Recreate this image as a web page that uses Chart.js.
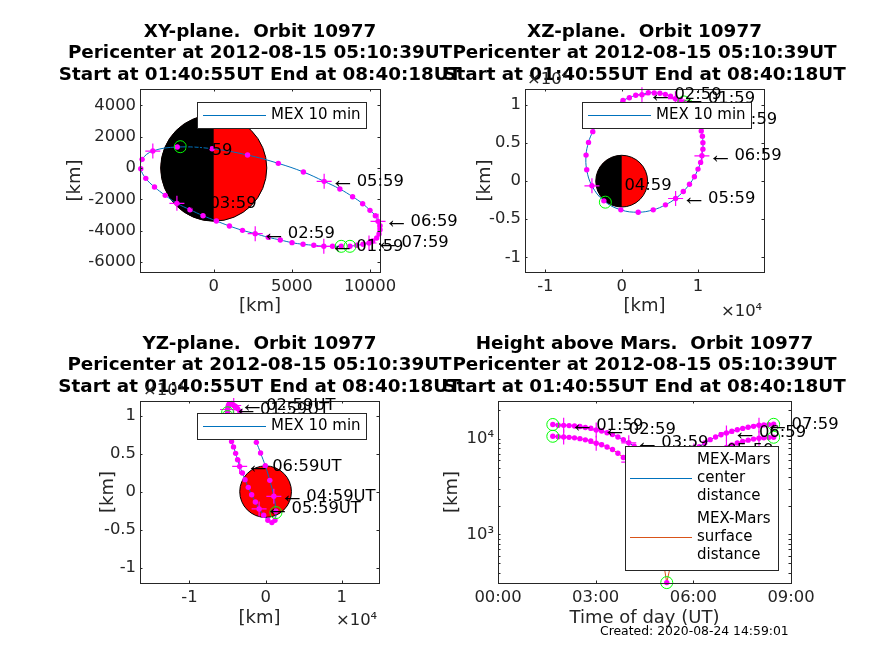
<!DOCTYPE html>
<html>
<head>
<meta charset="utf-8">
<title>Orbit 10977</title>
<script src="https://cdn.jsdelivr.net/npm/chart.js@4"></script>
<style>
  html, body { margin: 0; padding: 0; background: #fff; }
  canvas { position: absolute; left: 0; top: 0; }
</style>
</head>
<body>
<script>
"use strict";
// one sample every 10 min
const timeMin = [101, 111, 121, 131, 141, 151, 161, 171, 181, 191, 201, 211, 221, 231, 241, 251, 261, 271, 281, 291, 301, 311, 321, 331, 341, 351, 361, 371, 381, 391, 401, 411, 421, 431, 441, 451, 461, 471, 481, 490, 499, 508];
const xKm = [8158, 7602, 7045, 6403, 5717, 5011, 4261, 3490, 2655, 1842, 1006, 171, -685, -1520, -2355, -3105, -3790, -4347, -4668, -4582, -3897, -2334, -107, 2163, 4133, 5739, 7066, 8073, 8887, 9529, 10000, 10343, 10514, 10642, 10642, 10578, 10428, 10171, 9936, 9550, 9143, 8715];
const yKm = [-5000, -5000, -5000, -4936, -4872, -4766, -4596, -4426, -4191, -3979, -3702, -3383, -3043, -2660, -2255, -1745, -1213, -660, -43, 553, 1085, 1340, 1234, 830, 298, -255, -851, -1340, -1830, -2277, -2702, -3043, -3404, -3681, -3936, -4213, -4468, -4660, -4787, -4872, -4936, -5000];
const zKm = [10400, 10500, 10830, 11140, 11400, 11540, 11580, 11620, 11360, 11270, 10960, 10600, 10000, 9300, 8500, 7600, 6500, 5090, 3420, 1490, -610, -2590, -3770, -4080, -3770, -3110, -2280, -1360, -400, 570, 1580, 2460, 3330, 4200, 5050, 5900, 6600, 7300, 8000, 8750, 9400, 9900];
const centerKm = [14135, 13905, 13853, 13766, 13653, 13454, 13168, 12915, 12394, 12091, 11610, 11127, 10478, 9793, 9105, 8390, 7629, 6723, 5788, 4848, 4099, 3728, 3962, 4690, 5604, 6535, 7470, 8295, 9083, 9813, 10479, 11063, 11541, 12017, 12442, 12869, 13225, 13528, 13900, 14000, 14100, 14200];
const surfaceKm = [10650, 10509, 10457, 10370, 10257, 10058, 9772, 9519, 8998, 8695, 8214, 7731, 7082, 6397, 5709, 4994, 4233, 3327, 2392, 1452, 703, 314, 566, 1294, 2208, 3139, 4074, 4899, 5687, 6417, 7083, 7667, 8145, 8621, 9046, 9400, 9700, 9950, 10150, 10250, 10330, 10400];

const hourIdx = [2, 8, 14, 20, 26, 32, 38];
const hourLabels = ["01:59", "02:59", "03:59", "04:59", "05:59", "06:59", "07:59"];
const endIdx = [0, 41];
const periTime = [311];
const periX = [-2141];
const periY = [1362];
const periZ = [-2760];
const periSurface = [314];
const marsRadiusKm = [3396];

const xyXTicks = [0, 5000, 10000];
const xyYTicks = [-6000, -4000, -2000, 0, 2000, 4000];
const wideTicks = [-10000, 0, 10000];
const zTicks = [-10000, -5000, 0, 5000, 10000];
const timeTicks = [0, 180, 360, 540];
const timeTickLabels = ["00:00", "03:00", "06:00", "09:00"];
const heightTicks = [400, 500, 600, 700, 800, 900, 1000, 2000, 3000, 4000, 5000, 6000, 7000, 8000, 9000, 10000, 20000];
const heightMajor = { 1000: "10³", 10000: "10⁴" };

const titleTail = ["Pericenter at 2012-08-15 05:10:39UT", "Start at 01:40:55UT End at 08:40:18UT"];

const FONT = "'DejaVu Sans'";
const INK = "#262626";
const BLUE = "#0072BD";
const ORANGE = "#D95319";
const MAGENTA = "#FF00FF";
const GREEN = "#00FF00";
const TICK_SIZE = 16.4;
const AXIS_SIZE = 18;
const TITLE_BLOCK = 68.1;

function pick(arr, idx) {
  return idx.map((i) => arr[i]);
}
function pts(xs, ys) {
  return xs.map((x, i) => ({ x: x, y: ys[i] }));
}

function lineSet(xs, ys, color, tension) {
  return { data: pts(xs, ys), showLine: true, borderColor: color, borderWidth: 1, pointRadius: 0, tension: tension, order: 4 };
}
function dotSet(xs, ys) {
  return { data: pts(xs, ys), pointStyle: "circle", pointRadius: 2.7, borderWidth: 0, backgroundColor: MAGENTA, clip: false, order: 3 };
}
function crossSet(xs, ys) {
  return { data: pts(xs, ys), pointStyle: "cross", pointRadius: 7.5, borderWidth: 1.2, borderColor: MAGENTA, clip: false, order: 2 };
}
function ringSet(xs, ys) {
  return { data: pts(xs, ys), pointStyle: "circle", pointRadius: 6, borderWidth: 1, borderColor: GREEN, backgroundColor: "transparent", clip: false, order: 1 };
}

function orbitSets(xs, ys, px, py) {
  return [
    lineSet(xs, ys, BLUE, 0.4),
    dotSet(xs, ys),
    crossSet(pick(xs, hourIdx), pick(ys, hourIdx)),
    ringSet(pick(xs, endIdx).concat(px), pick(ys, endIdx).concat(py)),
  ];
}

function drawDisc(ctx, chart, halves) {
  const sx = chart.scales.x, sy = chart.scales.y;
  const cx = sx.getPixelForValue(0), cy = sy.getPixelForValue(0);
  const rx = sx.getPixelForValue(marsRadiusKm[0]) - cx;
  const ry = cy - sy.getPixelForValue(marsRadiusKm[0]);
  ctx.save();
  ctx.fillStyle = "#FF0000";
  ctx.beginPath();
  ctx.ellipse(cx, cy, rx, ry, 0, 0, Math.PI * 2);
  ctx.fill();
  if (halves) {
    ctx.fillStyle = "#000";
    ctx.beginPath();
    ctx.ellipse(cx, cy, rx, ry, 0, Math.PI / 2, Math.PI * 1.5);
    ctx.fill();
  }
  ctx.strokeStyle = "#000";
  ctx.lineWidth = 1;
  ctx.beginPath();
  ctx.ellipse(cx, cy, rx, ry, 0, 0, Math.PI * 2);
  ctx.stroke();
  ctx.restore();
}

function drawFrame(ctx, chart) {
  const a = chart.chartArea;
  const len = 2.5;
  ctx.save();
  ctx.strokeStyle = INK;
  ctx.lineWidth = 1;
  ctx.strokeRect(Math.round(a.left) + 0.5, Math.round(a.top) + 0.5, Math.round(a.right - a.left), Math.round(a.bottom - a.top));
  ctx.beginPath();
  chart.scales.x.ticks.forEach((t) => {
    const p = Math.round(chart.scales.x.getPixelForValue(t.value)) + 0.5;
    ctx.moveTo(p, a.top); ctx.lineTo(p, a.top + len);
    ctx.moveTo(p, a.bottom); ctx.lineTo(p, a.bottom - len);
  });
  chart.scales.y.ticks.forEach((t) => {
    const p = Math.round(chart.scales.y.getPixelForValue(t.value)) + 0.5;
    ctx.moveTo(a.left, p); ctx.lineTo(a.left + len, p);
    ctx.moveTo(a.right, p); ctx.lineTo(a.right - len, p);
  });
  ctx.stroke();
  ctx.restore();
}

function drawHourLabels(ctx, chart, xs, ys, suffix) {
  ctx.save();
  ctx.fillStyle = "#000";
  ctx.textAlign = "left";
  ctx.textBaseline = "middle";
  hourIdx.forEach((idx, i) => {
    const px = chart.scales.x.getPixelForValue(xs[idx]);
    const py = chart.scales.y.getPixelForValue(ys[idx]);
    ctx.font = "25px 'Liberation Sans'";
    ctx.fillText("←", px + 6, py);
    ctx.font = TICK_SIZE + "px " + FONT;
    ctx.fillText(hourLabels[i] + suffix, px + 32.5, py);
  });
  ctx.restore();
}

function drawLegend(ctx, lg) {
  ctx.save();
  ctx.fillStyle = "#fff";
  ctx.fillRect(lg.left, lg.top, lg.w, lg.h);
  ctx.strokeStyle = INK;
  ctx.lineWidth = 1;
  ctx.strokeRect(lg.left + 0.5, lg.top + 0.5, lg.w, lg.h);
  ctx.font = "15px " + FONT;
  ctx.textBaseline = "middle";
  ctx.textAlign = "left";
  lg.items.forEach((it) => {
    ctx.strokeStyle = it.color;
    ctx.beginPath();
    ctx.moveTo(lg.left + lg.lineFrom, it.y + 0.5);
    ctx.lineTo(lg.left + lg.lineTo, it.y + 0.5);
    ctx.stroke();
    ctx.fillStyle = "#000";
    it.lines.forEach((s, k) => {
      ctx.fillText(s, lg.left + lg.textAt, it.y + (k - (it.lines.length - 1) / 2) * 18);
    });
  });
  ctx.restore();
}

function drawExtra(ctx, extra) {
  ctx.save();
  ctx.textBaseline = "middle";
  ctx.textAlign = "left";
  extra.forEach((e) => {
    ctx.font = e.size + "px " + FONT;
    ctx.fillStyle = e.color || INK;
    ctx.fillText(e.text, e.x, e.y);
  });
  ctx.restore();
}

function makeAxis(o) {
  return Object.assign({
    type: "linear",
    grid: { display: false, drawTicks: false },
    border: { display: false },
    title: { display: true, text: o.label, color: INK, font: { family: FONT, size: AXIS_SIZE }, padding: 0 },
    afterBuildTicks: (s) => { s.ticks = o.ticks.map((v) => ({ value: v })); },
    afterFit: (s) => {
      if (o.width) s.width = o.width;
      if (o.height) s.height = o.height;
      s.paddingLeft = s.paddingRight = s.paddingTop = s.paddingBottom = 0;
    },
    ticks: {
      color: INK,
      font: { family: FONT, size: TICK_SIZE },
      padding: o.pad,
      autoSkip: false,
      maxRotation: 0,
      callback: o.fmt,
    },
  }, o.range);
}

function makePanel(p) {
  const canvas = document.createElement("canvas");
  canvas.width = 874;
  canvas.height = 655;
  document.body.appendChild(canvas);
  const panelPlugin = {
    id: "panelPlugin",
    afterLayout(chart) {
      const mid = (chart.chartArea.left + chart.chartArea.right) / 2;
      chart.titleBlock.left = mid - 300;
      chart.titleBlock.right = mid + 300;
    },
    beforeDatasetsDraw(chart) {
      if (p.disc) drawDisc(chart.ctx, chart, p.disc === "half");
    },
    afterDatasetsDraw(chart) {
      const ctx = chart.ctx;
      drawFrame(ctx, chart);
      p.labels.forEach((l) => drawHourLabels(ctx, chart, l.xs, l.ys, l.suffix));
      drawLegend(ctx, p.legend);
      if (p.extra) drawExtra(ctx, p.extra);
    },
  };
  return new Chart(canvas.getContext("2d"), {
    type: "scatter",
    data: { datasets: p.datasets },
    plugins: [panelPlugin],
    options: {
      responsive: false,
      animation: false,
      layout: { padding: { left: p.box[0] - p.yWidth, right: 874 - p.box[1], top: p.box[2] - TITLE_BLOCK, bottom: 655 - p.box[3] - p.xHeight } },
      plugins: {
        legend: { display: false },
        tooltip: { enabled: false },
        title: {
          display: true,
          text: [p.title].concat(titleTail),
          color: "#000",
          font: { family: FONT, size: 18.35, weight: "bold", lineHeight: "21.7px" },
          padding: { top: 0, bottom: 3 },
        },
      },
      scales: { x: p.x, y: p.y },
    },
  });
}

const kmFmt = (v) => String(v);
const e4Fmt = (v) => String(v / 10000);

const legend10 = (left, top) => ({
  left: left, top: top, w: 169, h: 26, lineFrom: 6, lineTo: 69, textAt: 74,
  items: [{ color: BLUE, y: top + 13, lines: ["MEX 10 min"] }],
});

makePanel({
  title: "XY-plane.  Orbit 10977",
  box: [140, 380, 89, 272], yWidth: 75, xHeight: 45,
  disc: "half",
  datasets: orbitSets(xKm, yKm, periX, periY),
  labels: [{ xs: xKm, ys: yKm, suffix: "" }],
  legend: legend10(197, 102),
  x: makeAxis({ label: "[km]", ticks: xyXTicks, height: 45, pad: 5, fmt: kmFmt, range: { min: -4717, max: 10640 } }),
  y: makeAxis({ label: "[km]", ticks: xyYTicks, width: 75, pad: 4, fmt: kmFmt, range: { min: -6640, max: 5047 } }),
});

makePanel({
  title: "XZ-plane.  Orbit 10977",
  box: [525, 764, 89, 272], yWidth: 50, xHeight: 45,
  disc: "half",
  datasets: orbitSets(xKm, zKm, periX, periZ),
  labels: [{ xs: xKm, ys: zKm, suffix: "" }],
  legend: legend10(582, 102),
  extra: [
    { text: "×10⁴", x: 527, y: 80, size: TICK_SIZE },
    { text: "×10⁴", x: 721, y: 312, size: TICK_SIZE },
  ],
  x: makeAxis({ label: "[km]", ticks: wideTicks, height: 45, pad: 5, fmt: e4Fmt, range: { min: -12670, max: 18650 } }),
  y: makeAxis({ label: "[km]", ticks: zTicks, width: 50, pad: 4, fmt: e4Fmt, range: { min: -11930, max: 12100 } }),
});

makePanel({
  title: "YZ-plane.  Orbit 10977",
  box: [140, 379, 401, 583], yWidth: 42, xHeight: 46,
  disc: "full",
  datasets: orbitSets(yKm, zKm, periY, periZ),
  labels: [{ xs: yKm, ys: zKm, suffix: "UT" }],
  legend: legend10(197, 413),
  extra: [
    { text: "×10⁴", x: 143, y: 391, size: TICK_SIZE },
    { text: "×10⁴", x: 336, y: 621, size: TICK_SIZE },
  ],
  x: makeAxis({ label: "[km]", ticks: wideTicks, height: 46, pad: 5, fmt: e4Fmt, range: { min: -16500, max: 14900 } }),
  y: makeAxis({ label: "[km]", ticks: zTicks, width: 42, pad: 4, fmt: e4Fmt, range: { min: -12040, max: 11950 } }),
});

makePanel({
  title: "Height above Mars.  Orbit 10977",
  box: [498, 791, 401, 583], yWidth: 56, xHeight: 46,
  datasets: [
    lineSet(timeMin, centerKm, BLUE, 0),
    lineSet(timeMin, surfaceKm, ORANGE, 0),
    dotSet(timeMin, centerKm),
    dotSet(timeMin, surfaceKm),
    crossSet(pick(timeMin, hourIdx), pick(centerKm, hourIdx)),
    crossSet(pick(timeMin, hourIdx), pick(surfaceKm, hourIdx)),
    ringSet(pick(timeMin, endIdx), pick(centerKm, endIdx)),
    ringSet(pick(timeMin, endIdx).concat(periTime), pick(surfaceKm, endIdx).concat(periSurface)),
  ],
  labels: [{ xs: timeMin, ys: centerKm, suffix: "" }],
  legend: {
    left: 625, top: 446, w: 153, h: 124, lineFrom: 5, lineTo: 67, textAt: 72,
    items: [
      { color: BLUE, y: 478, lines: ["MEX-Mars", "center", "distance"] },
      { color: ORANGE, y: 537, lines: ["MEX-Mars", "surface", "distance"] },
    ],
  },
  extra: [{ text: "Created: 2020-08-24 14:59:01", x: 600, y: 632, size: 12.4, color: "#000" }],
  x: makeAxis({ label: "Time of day (UT)", ticks: timeTicks, height: 46, pad: 5, fmt: (v) => timeTickLabels[timeTicks.indexOf(v)], range: { min: 0, max: 540 } }),
  y: makeAxis({ label: "[km]", ticks: heightTicks, width: 56, pad: 4, fmt: (v) => heightMajor[v] || "", range: { type: "logarithmic", min: 311, max: 24900 } }),
});
</script>
</body>
</html>
